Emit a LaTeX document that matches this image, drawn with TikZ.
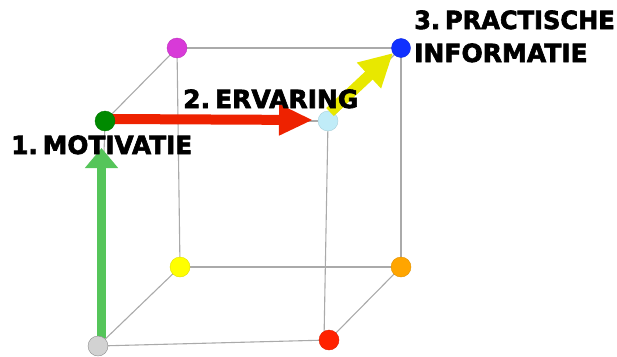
\documentclass[tikz,border=0pt]{standalone}
\usepackage{fontspec}
\setmainfont{DejaVu Sans}[BoldFont={DejaVu Sans Bold},BoldFeatures={FakeBold=2.5}]
\usetikzlibrary{arrows.meta}
\definecolor{edgegray}{HTML}{AAAAAA}
\definecolor{cgray}{HTML}{D2D2D2}
\definecolor{cred}{HTML}{FF2200}
\definecolor{cyellow}{HTML}{FFFF00}
\definecolor{corange}{HTML}{FFA500}
\definecolor{cgreen}{HTML}{008A00}
\definecolor{clblue}{HTML}{C0ECF8}
\definecolor{cmagenta}{HTML}{D83AD8}
\definecolor{cblue}{HTML}{1030FF}
\definecolor{agreen}{HTML}{55C55A}
\definecolor{ared}{HTML}{EE2200}
\definecolor{ayellow}{HTML}{E8E800}
\newcommand{\nsp}{\hspace{5pt}}
\begin{document}
\begin{tikzpicture}[x=1pt,y=-1pt,
  edge/.style={draw=edgegray,line width=1.1pt},
  dot/.style={circle,inner sep=0pt,minimum size=20pt,fill=#1,draw=#1!88!black,line width=0.4pt},
  lbl/.style={font=\bfseries\fontsize{25}{26}\selectfont,inner sep=0pt,anchor=base west},
  bigarrow/.style={line width=#1,line cap=butt}]
\useasboundingbox (0,0) rectangle (617,356);
% cube vertices
\coordinate (pG0) at (98,346);
\coordinate (pR) at (329,340);
\coordinate (pY) at (180,267);
\coordinate (pO) at (401,267);
\coordinate (pGr) at (105,121);
\coordinate (pL) at (328,121);
\coordinate (pM) at (177,48);
\coordinate (pB) at (401,48);
% edges
\draw[edge] (pG0) -- (pR);
\draw[edge] (pG0) -- (pY);
\draw[edge] (pY) -- (pO);
\draw[edge] (pR) -- (pO);
\draw[edge] (pG0) -- (pGr);
\draw[edge] (pGr) -- (pM);
\draw[edge] (pM) -- (pB);
\draw[edge] (pGr) -- (pL);
\draw[edge] (pL) -- (pB);
\draw[edge] (pM) -- (pY);
\draw[edge] (pB) -- (pO);
\draw[edge] (pL) -- ([xshift=-5pt]pR);
% arrows
\coordinate (gtail) at (101.5,338);
\coordinate (gtip) at (101.5,148);
\draw[bigarrow=9.5pt,agreen,-{Triangle[width=32pt,length=20pt]}] (gtail) -- (gtip);
\coordinate (rtail) at (110,119);
\coordinate (rtip) at (313,120);
\draw[bigarrow=10pt,ared,-{Triangle[width=29pt,length=34pt]}] (rtail) -- (rtip);
% dots
\node[dot=cgray,draw=gray!90] (gray) at (pG0) {};
\node[dot=cred] (red) at (pR) {};
\node[dot=cyellow] (yellow) at (pY) {};
\node[dot=corange] (orange) at (pO) {};
\node[dot=cgreen] (green) at (pGr) {};
\node[dot=clblue] (lblue) at (pL) {};
\node[dot=cmagenta] (magenta) at (pM) {};
\node[dot=cblue,minimum size=19pt] (blue) at (pB) {};
% yellow arrow
\coordinate (ytail) at (330,112);
\coordinate (ytip) at (393,53);
\draw[bigarrow=11pt,ayellow,-{Triangle[width=33pt,length=33pt]}] (ytail) -- (ytip);
% labels
\node[lbl,xscale=0.99] (t1) at (11,154) {1.\nsp MOTIVATIE};
\node[lbl] (t2) at (183,108) {2.\nsp ERVARING};
\node[lbl,xscale=0.965] (t3) at (414,29) {3.\nsp PRACTISCHE};
\node[lbl] (t4) at (414,62) {INFORMATIE};
\end{tikzpicture}
\end{document}
